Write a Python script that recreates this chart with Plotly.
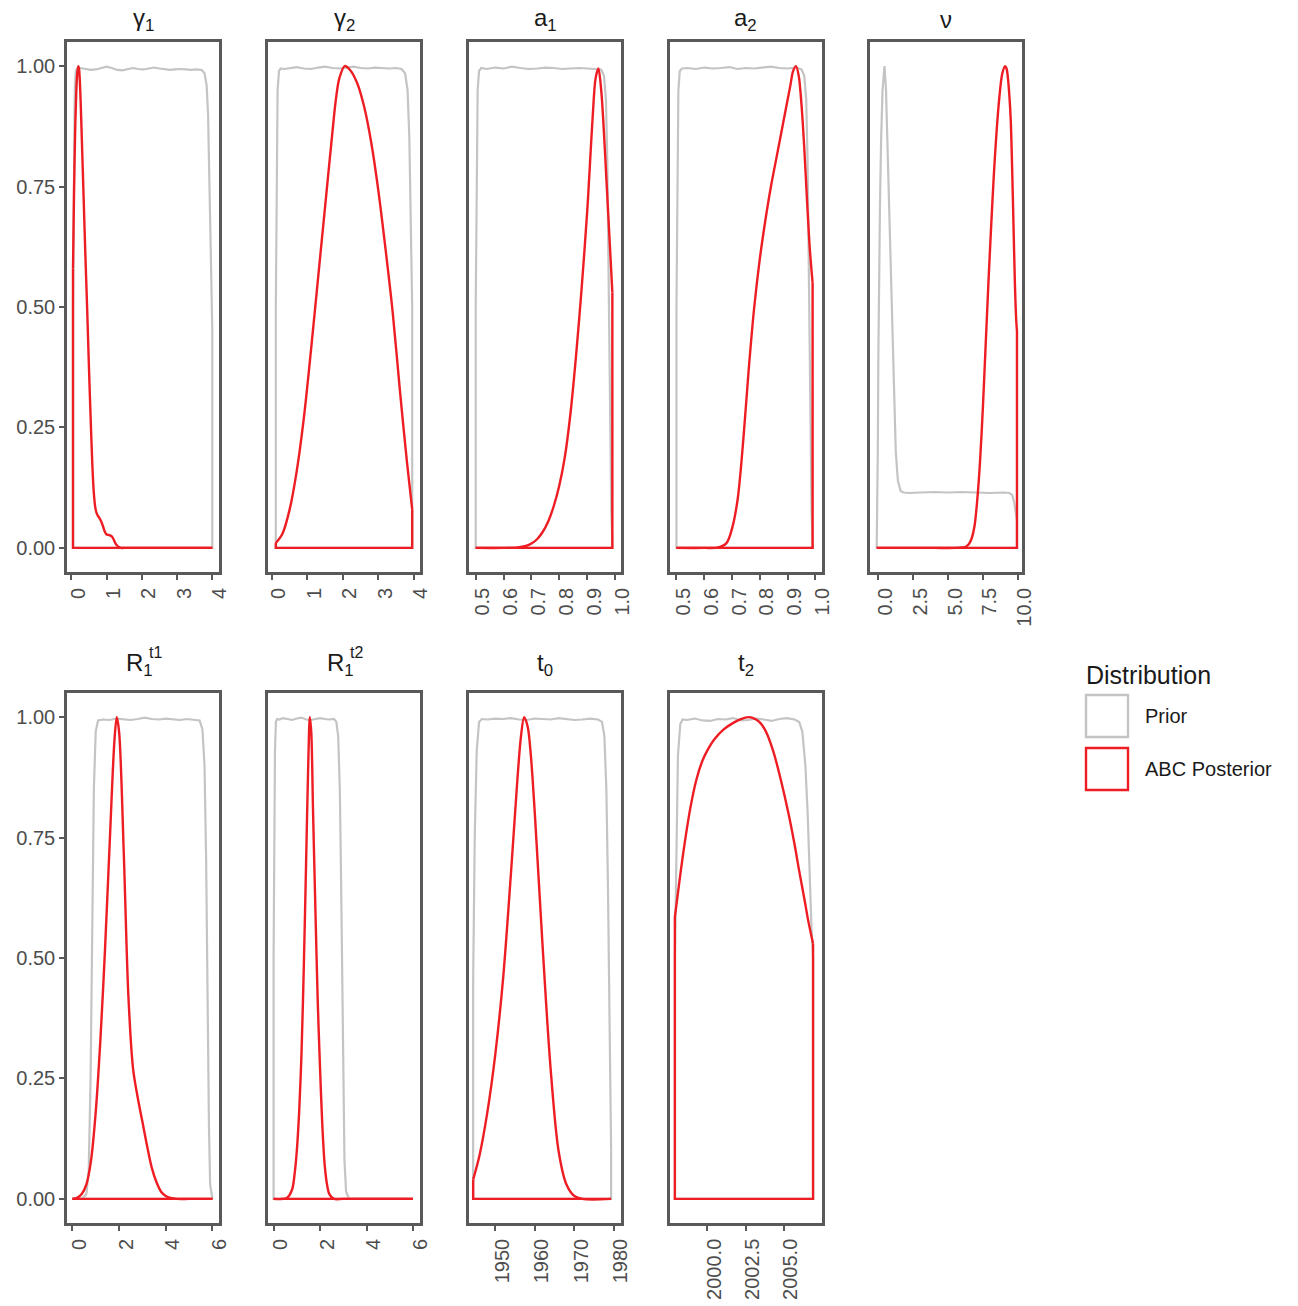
import plotly.graph_objects as go

W, H = 1298, 1306

# ---------------- data (scaled densities) ----------------
# gamma_1
g1_prior_x = [0.05, 0.07, 0.10, 0.13, 0.17, 0.25, 0.4, 0.55, 0.7, 0.85, 1.0, 1.15, 1.3, 1.45, 1.6, 1.75, 1.9, 2.05, 2.2, 2.35,
              2.5, 2.65, 2.8, 2.95, 3.1, 3.25, 3.4, 3.55, 3.7, 3.78, 3.84, 3.88, 3.92, 3.95, 3.98, 4.0]
g1_prior_y = [0.5, 0.8, 0.95, 0.99, 0.995, 0.996, 0.994, 0.992, 0.993, 0.996, 0.999, 0.996, 0.992, 0.991, 0.994, 0.996, 0.994,
              0.993, 0.995, 0.997, 0.995, 0.993, 0.992, 0.993, 0.994, 0.993, 0.992, 0.993, 0.992, 0.985, 0.96, 0.9, 0.75, 0.6,
              0.5, 0.45]
g1_post_x = [0.05, 0.08, 0.11, 0.14, 0.17, 0.20, 0.22, 0.24, 0.27, 0.30, 0.35, 0.40, 0.45, 0.50, 0.55, 0.60, 0.64, 0.68, 0.72,
             0.76, 0.80, 0.85, 0.90, 0.95, 1.00, 1.05, 1.10, 1.15, 1.20, 1.25, 1.30, 1.35, 1.40, 1.50, 2.00, 3.00, 4.00]
g1_post_y = [0.58, 0.74, 0.86, 0.94, 0.985, 1.0, 0.995, 0.975, 0.92, 0.85, 0.73, 0.61, 0.50, 0.38, 0.27, 0.17, 0.115, 0.085,
             0.072, 0.066, 0.062, 0.055, 0.045, 0.034, 0.028, 0.027, 0.026, 0.024, 0.018, 0.01, 0.005, 0.002, 0.0, 0.0, 0.0,
             0.0, 0.0]

# gamma_2
g2_prior_x = [0.11, 0.13, 0.16, 0.2, 0.25, 0.35, 0.5, 0.7, 0.9, 1.1, 1.3, 1.5, 1.7, 1.9, 2.1, 2.3, 2.5, 2.7, 2.9, 3.1, 3.3,
              3.5, 3.65, 3.75, 3.82, 3.87, 3.91, 3.95]
g2_prior_y = [0.5, 0.8, 0.95, 0.99, 0.995, 0.994, 0.996, 0.998, 0.995, 0.994, 0.997, 0.999, 0.996, 0.995, 0.997, 0.999, 0.996,
              0.995, 0.997, 0.996, 0.995, 0.996, 0.994, 0.985, 0.95, 0.85, 0.7, 0.5]
g2_post_x = [0.11, 0.3, 0.5, 0.7, 0.9, 1.1, 1.3, 1.5, 1.7, 1.8, 1.9, 2.05, 2.2, 2.4, 2.6, 2.8, 3.0, 3.2, 3.4, 3.6, 3.8, 3.95]
g2_post_y = [0.01, 0.03, 0.08, 0.16, 0.27, 0.41, 0.56, 0.71, 0.86, 0.93, 0.975, 1.0, 0.992, 0.965, 0.915, 0.84, 0.74, 0.62,
             0.49, 0.33, 0.18, 0.08]

# a_1
a1_prior_x = [0.5, 0.503, 0.507, 0.512, 0.52, 0.54, 0.57, 0.6, 0.63, 0.66, 0.69, 0.72, 0.75, 0.78, 0.81, 0.84, 0.87, 0.9,
              0.93, 0.95, 0.96, 0.967, 0.972, 0.977, 0.982, 0.986, 0.99]
a1_prior_y = [0.5, 0.8, 0.95, 0.99, 0.996, 0.994, 0.997, 0.995, 0.999, 0.996, 0.994, 0.995, 0.997, 0.996, 0.994, 0.995,
              0.996, 0.995, 0.994, 0.993, 0.98, 0.93, 0.8, 0.55, 0.25, 0.08, 0.01]
a1_post_x = [0.5, 0.6, 0.65, 0.68, 0.70, 0.72, 0.74, 0.76, 0.78, 0.80, 0.82, 0.84, 0.86, 0.88, 0.90, 0.91, 0.92, 0.93, 0.94,
             0.95, 0.96, 0.97, 0.98, 0.99]
a1_post_y = [0.0, 0.0, 0.001, 0.004, 0.009, 0.018, 0.033, 0.055, 0.087, 0.13, 0.19, 0.28, 0.40, 0.54, 0.70, 0.80, 0.90, 0.975,
             0.995, 0.95, 0.86, 0.75, 0.64, 0.53]

# a_2
a2_prior_x = [0.5, 0.503, 0.507, 0.512, 0.52, 0.54, 0.57, 0.6, 0.63, 0.66, 0.69, 0.72, 0.75, 0.78, 0.81, 0.84, 0.87, 0.9,
              0.93, 0.95, 0.96, 0.967, 0.972, 0.977, 0.982, 0.986, 0.99]
a2_prior_y = [0.5, 0.8, 0.95, 0.99, 0.995, 0.996, 0.994, 0.997, 0.995, 0.996, 0.998, 0.994, 0.996, 0.995, 0.997, 0.999,
              0.996, 0.995, 0.997, 0.993, 0.98, 0.93, 0.8, 0.55, 0.25, 0.08, 0.01]
a2_post_x = [0.5, 0.6, 0.65, 0.68, 0.70, 0.72, 0.74, 0.76, 0.78, 0.80, 0.82, 0.84, 0.86, 0.88, 0.90, 0.91, 0.92, 0.93, 0.94,
             0.95, 0.96, 0.97, 0.98, 0.99]
a2_post_y = [0.0, 0.0, 0.001, 0.01, 0.04, 0.10, 0.22, 0.37, 0.50, 0.60, 0.68, 0.75, 0.81, 0.87, 0.93, 0.96, 0.99, 1.0, 0.98,
             0.92, 0.83, 0.72, 0.62, 0.55]

# nu
nu_prior_x = [-0.12, -0.08, -0.04, 0.0, 0.06, 0.12, 0.2, 0.3, 0.44, 0.55, 0.65, 0.75, 0.85, 0.95, 1.1, 1.25, 1.4, 1.6, 1.8,
              2.2, 3, 4, 5, 6, 7, 8, 9, 9.4, 9.6, 9.75, 9.85, 9.95]
nu_prior_y = [0.0, 0.06, 0.2, 0.4, 0.6, 0.72, 0.85, 0.95, 1.0, 0.95, 0.84, 0.73, 0.62, 0.5, 0.33, 0.2, 0.14, 0.118, 0.115,
              0.114, 0.115, 0.116, 0.115, 0.116, 0.115, 0.114, 0.115, 0.114, 0.11, 0.095, 0.075, 0.057]
nu_post_x = [-0.12, 2, 4, 5.5, 6.0, 6.3, 6.5, 6.7, 6.9, 7.1, 7.3, 7.5, 7.7, 7.9, 8.1, 8.3, 8.5, 8.7, 8.9, 9.1, 9.2, 9.3, 9.4,
             9.5, 9.6, 9.7, 9.8, 9.9, 9.95]
nu_post_y = [0.0, 0.0, 0.0, 0.0, 0.001, 0.003, 0.008, 0.02, 0.045, 0.1, 0.18, 0.29, 0.42, 0.55, 0.67, 0.78, 0.87, 0.94,
             0.985, 1.0, 0.995, 0.975, 0.94, 0.89, 0.79, 0.67, 0.55, 0.47, 0.45]

# R_1^t1
r1_prior_x = [0.0, 0.4, 0.6, 0.7, 0.78, 0.85, 0.92, 1.0, 1.1, 1.3, 1.6, 1.9, 2.2, 2.5, 2.8, 3.1, 3.4, 3.7, 4.0, 4.3, 4.6,
              4.9, 5.2, 5.45, 5.57, 5.66, 5.73, 5.79, 5.85, 5.9, 6.0]
r1_prior_y = [0.0, 0.0, 0.01, 0.06, 0.25, 0.55, 0.85, 0.97, 0.993, 0.995, 0.994, 0.997, 0.996, 0.994, 0.996, 0.999, 0.996,
              0.995, 0.997, 0.995, 0.994, 0.996, 0.995, 0.993, 0.975, 0.9, 0.7, 0.4, 0.15, 0.03, 0.0]
r1_post_x = [0.0, 0.2, 0.4, 0.6, 0.8, 1.0, 1.2, 1.4, 1.6, 1.8, 1.9, 2.0, 2.2, 2.4, 2.6, 2.8, 3.0, 3.2, 3.4, 3.6, 3.8, 4.0,
             4.2, 4.5, 5.0, 6.0]
r1_post_y = [0.0, 0.002, 0.01, 0.03, 0.08, 0.18, 0.33, 0.52, 0.74, 0.95, 1.0, 0.97, 0.72, 0.42, 0.27, 0.21, 0.16, 0.11,
             0.065, 0.035, 0.015, 0.006, 0.002, 0.0, 0.0, 0.0]

# R_1^t2
r2_prior_x = [0.0, 0.03, 0.06, 0.1, 0.15, 0.25, 0.4, 0.6, 0.8, 1.0, 1.2, 1.4, 1.6, 1.8, 2.0, 2.2, 2.4, 2.6, 2.7, 2.78, 2.85,
              2.9, 2.95, 3.0, 3.05, 3.12, 3.25, 4.0, 5.0, 6.0]
r2_prior_y = [0.5, 0.75, 0.93, 0.99, 0.996, 0.995, 0.998, 0.996, 0.994, 0.997, 0.999, 0.995, 0.994, 0.996, 0.998, 0.996,
              0.995, 0.996, 0.99, 0.96, 0.85, 0.68, 0.45, 0.22, 0.08, 0.015, 0.0, 0.0, 0.0, 0.0]
r2_post_x = [0.0, 0.4, 0.6, 0.8, 0.9, 1.0, 1.1, 1.2, 1.3, 1.4, 1.5, 1.56, 1.62, 1.7, 1.8, 1.9, 2.0, 2.1, 2.2, 2.3, 2.4, 2.6,
             3.0, 6.0]
r2_post_y = [0.0, 0.0, 0.003, 0.02, 0.05, 0.1, 0.18, 0.3, 0.48, 0.7, 0.92, 1.0, 0.97, 0.8, 0.6, 0.41, 0.27, 0.15, 0.07,
             0.03, 0.01, 0.0, 0.0, 0.0]

# t_0
t0_prior_x = [1944.4, 1944.8, 1945.3, 1945.9, 1946.6, 1948, 1950, 1952, 1954, 1956, 1958, 1960, 1962, 1964, 1966, 1968,
              1970, 1972, 1974, 1976, 1977, 1977.6, 1978.1, 1978.5, 1978.9, 1979.3]
t0_prior_y = [0.45, 0.75, 0.93, 0.99, 0.996, 0.995, 0.997, 0.996, 0.998, 0.995, 0.994, 0.997, 0.996, 0.995, 0.998, 0.996,
              0.994, 0.995, 0.997, 0.995, 0.99, 0.96, 0.85, 0.65, 0.35, 0.1]
t0_post_x = [1944.4, 1946, 1948, 1950, 1952, 1954, 1955.5, 1956.5, 1957.3, 1958.2, 1959, 1960, 1962, 1964, 1966, 1968, 1970,
             1972, 1979.3]
t0_post_y = [0.04, 0.09, 0.18, 0.3, 0.46, 0.68, 0.86, 0.96, 1.0, 0.98, 0.92, 0.8, 0.52, 0.27, 0.1, 0.03, 0.006, 0.0, 0.0]

# t_2
t2_prior_x = [1997.9, 1998.0, 1998.1, 1998.25, 1998.4, 1998.7, 1999.2, 1999.7, 2000.2, 2000.7, 2001.2, 2001.7, 2002.2,
              2002.7, 2003.2, 2003.7, 2004.2, 2004.7, 2005.2, 2005.7, 2006.0, 2006.2, 2006.4, 2006.55, 2006.7, 2006.8,
              2006.9]
t2_prior_y = [0.5, 0.75, 0.92, 0.985, 0.995, 0.994, 0.997, 0.993, 0.992, 0.996, 0.995, 0.998, 0.993, 0.994, 0.997, 0.995,
              0.992, 0.996, 0.998, 0.995, 0.99, 0.97, 0.9, 0.8, 0.65, 0.56, 0.5]
t2_post_x = [1997.9, 1998.2, 1998.5, 1998.9, 1999.3, 1999.7, 2000.0, 2000.5, 2001.1, 2001.7, 2002.2, 2002.7, 2003.0,
             2003.4, 2003.8, 2004.3, 2004.8, 2005.3, 2005.7, 2006.0, 2006.35, 2006.6, 2006.9]
t2_post_y = [0.585, 0.66, 0.73, 0.81, 0.87, 0.91, 0.93, 0.955, 0.975, 0.988, 0.996, 1.0, 0.998, 0.99, 0.972, 0.93, 0.87,
             0.8, 0.735, 0.68, 0.62, 0.575, 0.53]

# tick labels
gamma_ticks = [0, 1, 2, 3, 4]
gamma_ticktext = ["0", "1", "2", "3", "4"]
a_ticks = [0.5, 0.6, 0.7, 0.8, 0.9, 1.0]
a_ticktext = ["0.5", "0.6", "0.7", "0.8", "0.9", "1.0"]
nu_ticks = [0, 2.5, 5, 7.5, 10]
nu_ticktext = ["0.0", "2.5", "5.0", "7.5", "10.0"]
r_ticks = [0, 2, 4, 6]
r_ticktext = ["0", "2", "4", "6"]
t0_ticks = [1950, 1960, 1970, 1980]
t0_ticktext = ["1950", "1960", "1970", "1980"]
t2_ticks = [2000, 2002.5, 2005]
t2_ticktext = ["2000.0", "2002.5", "2005.0"]
y_ticks = [0, 0.25, 0.5, 0.75, 1.0]
y_ticktext = ["0.00", "0.25", "0.50", "0.75", "1.00"]

legend_title = "Distribution"
legend_labels = ["Prior", "ABC Posterior"]

# ---------------- styling / layout ----------------
GREY = "#C4C4C4"
RED = "#EE1D23"
FRAME = "#595959"
TICKTXT = "#4D4D4D"
FONT = "Liberation Sans, Arial, Helvetica, sans-serif"

panels = [
    dict(title="γ<sub>1</sub>", prior=(g1_prior_x, g1_prior_y), post=(g1_post_x, g1_post_y),
         xr=[-0.12, 4.19], tv=gamma_ticks, tt=gamma_ticktext, row=0, col=0),
    dict(title="γ<sub>2</sub>", prior=(g2_prior_x, g2_prior_y), post=(g2_post_x, g2_post_y),
         xr=[-0.11, 4.17], tv=gamma_ticks, tt=gamma_ticktext, row=0, col=1),
    dict(title="a<sub>1</sub>", prior=(a1_prior_x, a1_prior_y), post=(a1_post_x, a1_post_y),
         xr=[0.476, 1.021], tv=a_ticks, tt=a_ticktext, row=0, col=2),
    dict(title="a<sub>2</sub>", prior=(a2_prior_x, a2_prior_y), post=(a2_post_x, a2_post_y),
         xr=[0.475, 1.022], tv=a_ticks, tt=a_ticktext, row=0, col=3),
    dict(title="ν", prior=(nu_prior_x, nu_prior_y), post=(nu_post_x, nu_post_y),
         xr=[-0.6, 10.31], tv=nu_ticks, tt=nu_ticktext, row=0, col=4),
    dict(title="R<sub>1</sub>", sup="t1", prior=(r1_prior_x, r1_prior_y), post=(r1_post_x, r1_post_y),
         xr=[-0.23, 6.28], tv=r_ticks, tt=r_ticktext, row=1, col=0),
    dict(title="R<sub>1</sub>", sup="t2", prior=(r2_prior_x, r2_prior_y), post=(r2_post_x, r2_post_y),
         xr=[-0.24, 6.3], tv=r_ticks, tt=r_ticktext, row=1, col=1),
    dict(title="t<sub>0</sub>", prior=(t0_prior_x, t0_prior_y), post=(t0_post_x, t0_post_y),
         xr=[1943.35, 1981.8], tv=t0_ticks, tt=t0_ticktext, row=1, col=2),
    dict(title="t<sub>2</sub>", prior=(t2_prior_x, t2_prior_y), post=(t2_post_x, t2_post_y),
         xr=[1997.55, 2007.45], tv=t2_ticks, tt=t2_ticktext, row=1, col=3),
]

col_left = [67, 268, 469, 669.5, 870]
panel_w = 152
row_top = [42, 693]
panel_h = 530
title_y = [20, 664]
TICK_SIZE = 20


def px(x):
    return x / W


def py(y):
    return 1 - y / H


fig = go.Figure()
layout = dict(
    height=H, autosize=True,
    margin=dict(l=0, r=0, t=0, b=0, autoexpand=False),
    paper_bgcolor="white", plot_bgcolor="white",
    showlegend=False,
    font=dict(family=FONT),
)
annotations = []
shapes = []

for i, p in enumerate(panels):
    k = i + 1
    xa = "x" if k == 1 else f"x{k}"
    ya = "y" if k == 1 else f"y{k}"
    l = col_left[p["col"]]
    t = row_top[p["row"]]
    for (xs, ys), color, w, shape in ((p["prior"], GREY, 2.2, "linear"), (p["post"], RED, 2.4, "spline")):
        # closing edges of the density polygon (down to zero and along the baseline)
        fig.add_trace(go.Scatter(x=[xs[-1], xs[-1], xs[0], xs[0]], y=[ys[-1], 0, 0, ys[0]], mode="lines",
                                 xaxis=xa, yaxis=ya, line=dict(color=color, width=w),
                                 hoverinfo="skip", showlegend=False))
        # density curve
        fig.add_trace(go.Scatter(x=xs, y=ys, mode="lines", xaxis=xa, yaxis=ya,
                                 line=dict(color=color, width=w, shape=shape, smoothing=0.9),
                                 hoverinfo="skip", showlegend=False))
    axx = dict(domain=[px(l), px(l + panel_w)], anchor=ya, range=p["xr"],
               tickmode="array", tickvals=p["tv"], ticktext=p["tt"], tickangle=-90,
               ticks="outside", ticklen=5, tickwidth=2, tickcolor=FRAME,
               showline=True, mirror=True, linecolor=FRAME, linewidth=2.5,
               showgrid=False, zeroline=False, ticklabelshift=7,
               tickfont=dict(size=TICK_SIZE, color=TICKTXT, family=FONT))
    axy = dict(domain=[py(t + panel_h), py(t)], anchor=xa, range=[-0.05, 1.05],
               showline=True, mirror=True, linecolor=FRAME, linewidth=2.5,
               showgrid=False, zeroline=False)
    if p["col"] == 0:
        axy.update(tickmode="array", tickvals=y_ticks, ticktext=y_ticktext,
                   ticks="outside", ticklen=5, tickwidth=2, tickcolor=FRAME,
                   tickfont=dict(size=TICK_SIZE, color=TICKTXT, family=FONT))
    else:
        axy.update(showticklabels=False, ticks="")
    layout["xaxis" if k == 1 else f"xaxis{k}"] = axx
    layout["yaxis" if k == 1 else f"yaxis{k}"] = axy

    cxp = l + panel_w / 2
    if "sup" in p:
        annotations.append(dict(text=p["title"], x=px(cxp - 4), y=py(title_y[p["row"]]), xref="paper", yref="paper",
                                showarrow=False, xanchor="center", yanchor="middle",
                                font=dict(size=24, color="#1A1A1A", family=FONT)))
        annotations.append(dict(text=p["sup"], x=px(cxp + 4), y=py(title_y[p["row"]] - 12), xref="paper",
                                yref="paper", showarrow=False, xanchor="left", yanchor="middle",
                                font=dict(size=16, color="#1A1A1A", family=FONT)))
    else:
        annotations.append(dict(text=p["title"], x=px(cxp), y=py(title_y[p["row"]]), xref="paper", yref="paper",
                                showarrow=False, xanchor="center", yanchor="middle",
                                font=dict(size=24, color="#1A1A1A", family=FONT)))

# legend (drawn manually to reproduce outlined square keys)
annotations.append(dict(text=legend_title, x=px(1084), y=py(675), xref="paper", yref="paper", showarrow=False,
                        xanchor="left", yanchor="middle", font=dict(size=25, color="#1A1A1A", family=FONT)))
for j, (lab, col) in enumerate(zip(legend_labels, [GREY, RED])):
    top = 695 + j * 53
    shapes.append(dict(type="rect", xref="paper", yref="paper", x0=px(1086), x1=px(1128), y0=py(top + 42), y1=py(top),
                       line=dict(color=col, width=2.4), fillcolor="white"))
    annotations.append(dict(text=lab, x=px(1143), y=py(top + 21), xref="paper", yref="paper", showarrow=False,
                            xanchor="left", yanchor="middle", font=dict(size=20, color="#1A1A1A", family=FONT)))

layout["annotations"] = annotations
layout["shapes"] = shapes
fig.update_layout(**layout)
fig.write_html(
    "out.html",
    config={"displayModeBar": False, "responsive": True},
    default_width="100%",
    default_height=f"{H}px",
    post_script=("document.body.style.margin='0px';"
                 "document.body.style.overflow='hidden';"
                 "document.documentElement.style.overflow='hidden';"
                 "Plotly.Plots.resize(document.getElementById('{plot_id}'));"),
)
